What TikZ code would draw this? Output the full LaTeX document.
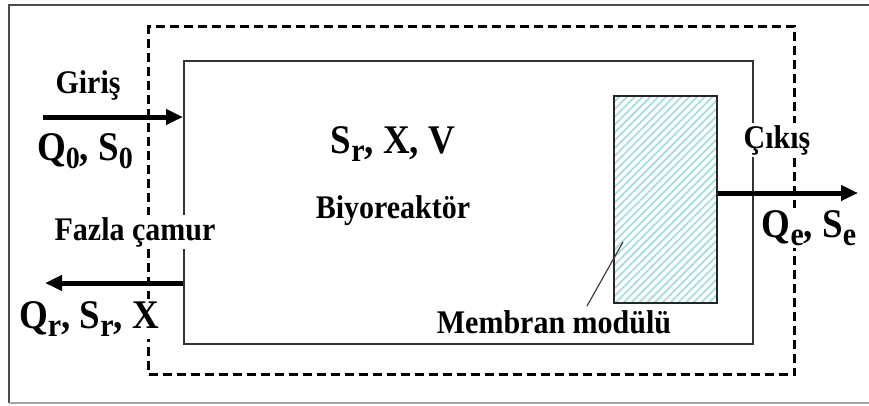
\documentclass[tikz,border=0pt]{standalone}
\usepackage{fontspec}
\setmainfont{Liberation Serif}
\usetikzlibrary{arrows.meta,patterns.meta}
\definecolor{hatchc}{RGB}{165,222,222}
\newcommand{\lowsub}[2][28]{\raisebox{-8pt}{\fontsize{#1}{#1}\selectfont #2}}
\newcommand{\tall}[1]{\scalebox{1}[1.1]{#1}}
\begin{document}
\begin{tikzpicture}[x=1pt,y=-1pt,
  lbl/.style={font=\fontsize{30}{30}\selectfont\bfseries, anchor=base, inner sep=0pt},
  big/.style={font=\fontsize{37}{37}\selectfont\bfseries, anchor=base, inner sep=0pt},
  mask/.style={fill=white, inner xsep=3pt, inner ysep=2pt},
  flow/.style={line width=5pt, -{Triangle[length=17pt,width=15pt]}},
  box/.style={draw=black!80, line width=1.5pt, anchor=north west, inner sep=0pt},
]
\useasboundingbox (0,0) rectangle (869,405);
% outer frame
\draw[line width=2.5pt, black!70] (869,5) -- (9,5) -- (9,403);
\draw[line width=2pt, black!35] (9,403) -- (869,403);
% system boundary
\node (boundary) [draw=black, line width=3pt, dash pattern=on 9pt off 5pt, anchor=north west, inner sep=0pt,
  minimum width=646pt, minimum height=348pt] at (147,25) {};
% reactor
\node (reactor) [box, minimum width=569pt, minimum height=283pt] at (183,60) {};
% membrane
\node (membrane) [box, draw=black!85, pattern={Lines[angle=45,distance=5.5pt,line width=1.8pt]}, pattern color=hatchc,
  minimum width=103pt, minimum height=207pt] at (613,95) {};
% arrows
\coordinate (inStart) at (43,117);
\draw[flow] (inStart) -- (inStart -| reactor.west);
\coordinate (wasteEnd) at (45,283);
\draw[flow] (wasteEnd -| reactor.west) -- (wasteEnd);
\coordinate (outEnd) at (858,193);
\draw[flow] (outEnd -| membrane.east) -- (outEnd);
% leader
\coordinate (leadFoot) at (587,306);
\coordinate (leadHead) at (623,242);
\draw[line width=1.2pt, black!75] (leadFoot) -- (leadHead);
% labels
\node (giris) [lbl] at (88,93) {\tall{Giriş}};
\node (qin) [big] at (85,160) {\tall{Q\lowsub{0}, S\lowsub{0}}};
\node (fazla) [lbl, mask] at (135,240) {\tall{Fazla çamur}};
\node (qr) [big, mask] at (89,328) {\tall{Q\lowsub[30]{r}, S\lowsub[30]{r}, X}};
\node (state) [big] at (393,153) {\tall{S\lowsub[30]{r}, X, V}};
\node (bio) [lbl] at (393,218) {\tall{Biyoreaktör}};
\node (modlabel) [lbl] at (554,333) {\tall{Membran modülü}};
\node (cikis) [lbl, mask] at (777,148) {\tall{Çıkış}};
\node (qe) [big, mask] at (809,237) {\tall{Q\lowsub[30]{e}, S\lowsub[30]{e}}};
\end{tikzpicture}
\end{document}
